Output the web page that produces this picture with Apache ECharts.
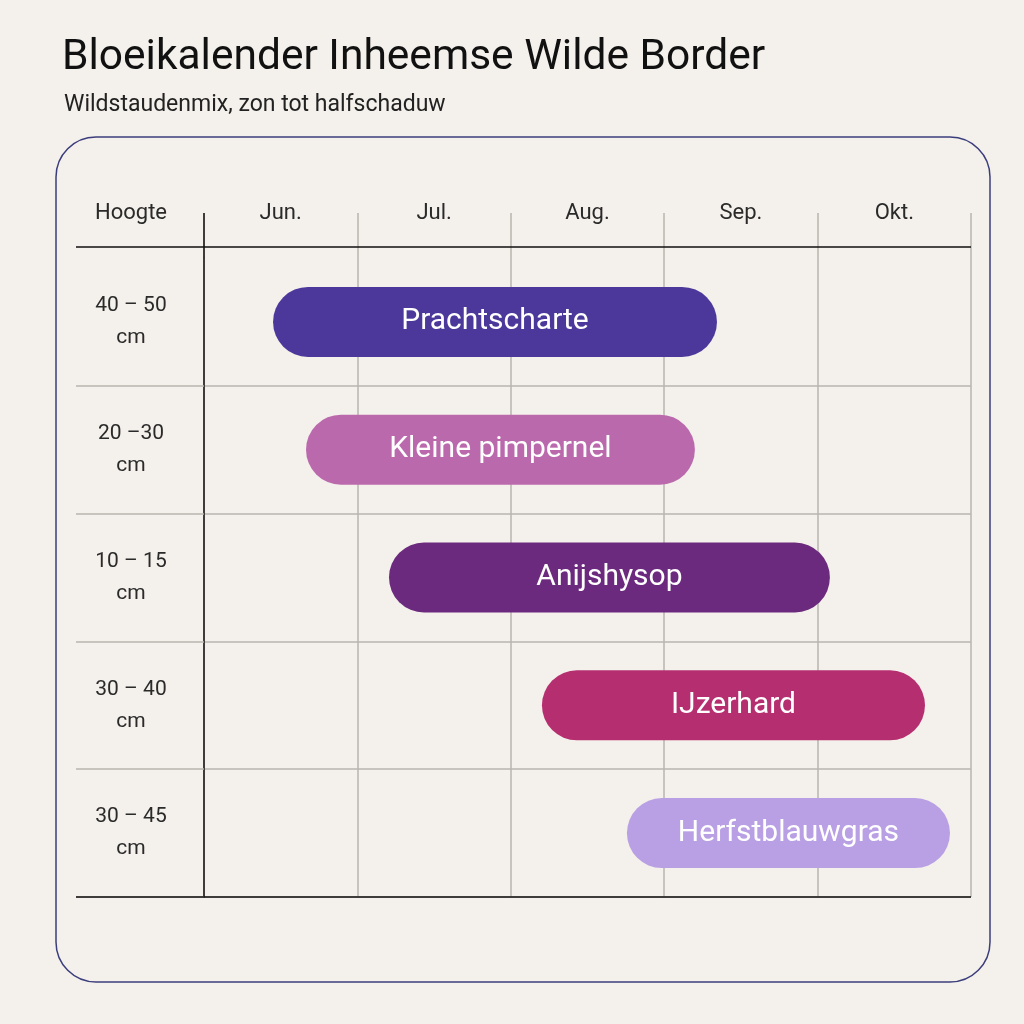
<!DOCTYPE html>
<html><head><meta charset="utf-8">
<script src="https://cdn.jsdelivr.net/npm/echarts@6/dist/echarts.min.js"></script>
<style>html,body{margin:0;padding:0;background:#f4f0eb}#c{width:1024px;height:1024px}</style>
</head><body><div id="c"></div>
<script>
const months = ['Jun.', 'Jul.', 'Aug.', 'Sep.', 'Okt.'];
const heights = ['40 – 50\ncm', '20 –30\ncm', '10 – 15\ncm', '30 – 40\ncm', '30 – 45\ncm'];
const plants = ['Prachtscharte', 'Kleine pimpernel', 'Anijshysop', 'IJzerhard', 'Herfstblauwgras'];
// bloom start / end in months counted from 1 June
const bloomStart = [0.45, 0.665, 1.206, 2.203, 2.757];
const bloomEnd = [3.344, 3.20, 4.08, 4.70, 4.863];
const colors = ['#4b389a', '#bb69ad', '#6c2a7e', '#b52f70', '#b9a0e4'];

const FONT = 'Roboto';
const chart = echarts.init(document.getElementById('c'));
const G = {left: 204, right: 53, top: 258, bottom: 127};
const gx0 = 76, gx1 = 1024 - G.right, headY = 247, gy1 = 1024 - G.bottom;
const skipFirst = (i) => i > 0;

chart.setOption({
  backgroundColor: '#f4f0eb',
  animation: false,
  textStyle: {fontFamily: FONT},
  title: [
    {text: 'Bloeikalender Inheemse Wilde Border', left: 57, top: 32,
     textStyle: {fontFamily: FONT, fontSize: 42.5, fontWeight: 'normal', color: '#111'}},
    {text: 'Wildstaudenmix, zon tot halfschaduw', left: 59, top: 89,
     textStyle: {fontFamily: FONT, fontSize: 23, fontWeight: 'normal', color: '#222'}}
  ],
  grid: G,
  xAxis: [
    {type: 'category', data: months, position: 'top', boundaryGap: true,
     axisLine: {show: false},
     axisTick: {show: true, length: 45, alignWithLabel: false, lineStyle: {color: '#b8b5b0', width: 1.5}},
     axisLabel: {fontFamily: FONT, fontSize: 22, color: '#2a2a2a', margin: 34},
     splitLine: {show: true, lineStyle: {color: '#b8b5b0', width: 1.5}}},
    {type: 'value', min: 0, max: 5, show: false}
  ],
  yAxis: {
    type: 'category', data: heights, inverse: true,
    axisLine: {show: true, lineStyle: {color: '#111', width: 1.5}},
    axisTick: {show: true, length: 128, alignWithLabel: false, interval: skipFirst,
               lineStyle: {color: '#b8b5b0', width: 1.5}},
    axisLabel: {fontFamily: FONT, fontSize: 21, color: '#2a2a2a', margin: 73, align: 'center', lineHeight: 32},
    splitLine: {show: true, interval: skipFirst, lineStyle: {color: '#b8b5b0', width: 1.5}}
  },
  graphic: [
    {type: 'rect', shape: {x: 56, y: 137, width: 934, height: 845, r: 40},
     style: {fill: 'none', stroke: '#3b3e7c', lineWidth: 1.5}, z: 0},
    {type: 'line', shape: {x1: gx0, y1: headY, x2: gx1, y2: headY}, style: {stroke: '#111', lineWidth: 1.5}, z: 10},
    {type: 'line', shape: {x1: gx0, y1: gy1, x2: gx1, y2: gy1}, style: {stroke: '#111', lineWidth: 1.5}, z: 10},
    {type: 'line', shape: {x1: G.left, y1: 213, x2: G.left, y2: G.top}, style: {stroke: '#111', lineWidth: 1.5}, z: 10},
    {type: 'text', x: 131, y: 213, style: {text: 'Hoogte', fontFamily: FONT, fontSize: 22, fill: '#2a2a2a', textAlign: 'center', textVerticalAlign: 'middle'}}
  ],
  series: [
    {type: 'bar', xAxisIndex: 1, stack: 'b', barWidth: 70, silent: true,
     itemStyle: {color: 'transparent'}, data: bloomStart},
    {type: 'bar', xAxisIndex: 1, stack: 'b', barWidth: 70,
     data: bloomEnd.map((e, i) => ({
       value: +(e - bloomStart[i]).toFixed(3),
       name: plants[i],
       itemStyle: {color: colors[i], borderRadius: 35}
     })),
     label: {show: true, position: 'inside', formatter: p => plants[p.dataIndex],
       fontFamily: FONT, fontSize: 30, color: '#fff'}}
  ]
});
</script></body></html>
